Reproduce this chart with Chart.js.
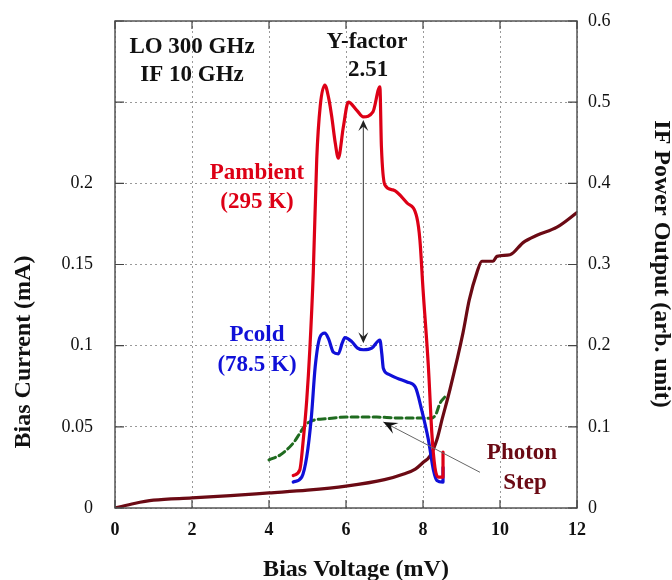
<!DOCTYPE html>
<html>
<head>
<meta charset="utf-8">
<script src="https://cdn.jsdelivr.net/npm/chart.js@4.4.1/dist/chart.umd.min.js"></script>
<style>
  html, body { margin: 0; padding: 0; background: #fff; }
  #wrap { width: 672px; height: 580px; }
</style>
</head>
<body>
<div id="wrap"><canvas id="chart" width="672" height="580"></canvas></div>
<script>
// Unpumped I-V curve (bias voltage mV -> bias current mA, left axis)
const ivVoltage = [0, 0.5, 1, 2, 3, 4, 5, 6, 7, 7.5, 7.8, 8.0, 8.18, 8.36, 8.5, 8.7, 9.04, 9.2, 9.4, 9.53, 9.82, 9.92, 10.26, 10.6, 10.96, 11.48, 12];
const ivCurrent = [0, 0.0028, 0.0048, 0.0062, 0.0076, 0.0093, 0.011, 0.0135, 0.0175, 0.021, 0.024, 0.028, 0.032, 0.042, 0.055, 0.073, 0.108, 0.128, 0.145, 0.152, 0.152, 0.155, 0.156, 0.1635, 0.168, 0.173, 0.182];

// Pumped I-V curve with photon step (left axis)
const pumpedVoltage = [4, 4.29, 4.63, 4.8, 4.94, 5.15, 5.5, 6.02, 6.8, 7.32, 8.0, 8.2, 8.33, 8.44, 8.57];
const pumpedCurrent = [0.0296, 0.0327, 0.040, 0.046, 0.051, 0.054, 0.055, 0.056, 0.056, 0.0555, 0.0555, 0.0553, 0.0575, 0.0645, 0.0685];

// IF power, ambient load (right axis)
const hotVoltage = [4.63, 4.8, 4.89, 4.98, 5.06, 5.15, 5.24, 5.33, 5.45, 5.55, 5.63, 5.72, 5.8, 5.93, 6.06, 6.28, 6.45, 6.7, 6.88, 6.92, 7.01, 7.22, 7.58, 7.84, 7.92, 8.0, 8.14, 8.23, 8.31, 8.4, 8.52, 8.52];
const hotPower = [0.04, 0.047, 0.084, 0.133, 0.195, 0.29, 0.43, 0.495, 0.521, 0.505, 0.482, 0.45, 0.431, 0.469, 0.50, 0.49, 0.482, 0.488, 0.519, 0.445, 0.398, 0.392, 0.376, 0.358, 0.33, 0.27, 0.174, 0.092, 0.05, 0.038, 0.038, 0.069];

// IF power, cold load (right axis)
const coldVoltage = [4.63, 4.85, 4.98, 5.1, 5.2, 5.32, 5.45, 5.55, 5.67, 5.8, 5.9, 5.97, 6.15, 6.3, 6.45, 6.67, 6.88, 6.93, 6.97, 7.1, 7.32, 7.6, 7.8, 7.97, 8.14, 8.27, 8.36, 8.52, 8.52];
const coldPower = [0.032, 0.038, 0.063, 0.112, 0.174, 0.21, 0.2155, 0.208, 0.192, 0.19, 0.203, 0.21, 0.205, 0.197, 0.195, 0.197, 0.207, 0.19, 0.172, 0.165, 0.16, 0.155, 0.149, 0.12, 0.084, 0.047, 0.034, 0.032, 0.05];

// Annotation arrows (data units)
const yFactorArrow = { x: 6.45, top: 0.478, bottom: 0.203 };         // right axis
const photonArrow = { fromX: 9.48, fromY: 0.022, toX: 6.97, toY: 0.053 }; // left axis

const SERIF = '"Liberation Serif", "Times New Roman", serif';

const pts = (xs, ys) => xs.map((x, i) => ({ x: x, y: ys[i] }));

function arrowHead(ctx, x, y, angle, len, half) {
    ctx.save();
    ctx.translate(x, y);
    ctx.rotate(angle);
    ctx.beginPath();
    ctx.moveTo(0, 0);
    ctx.lineTo(-len, -half);
    ctx.lineTo(-len * 0.6, 0);
    ctx.lineTo(-len, half);
    ctx.closePath();
    ctx.fill();
    ctx.restore();
}

const decorPlugin = {
    id: 'decor',
    afterDraw(chart) {
        const ctx = chart.ctx;
        const a = chart.chartArea;
        const sx = chart.scales.x, sy = chart.scales.y, sy1 = chart.scales.y1;

        ctx.save();
        // frame
        ctx.strokeStyle = '#555';
        ctx.lineWidth = 1.5;
        ctx.strokeRect(a.left, a.top, a.right - a.left, a.bottom - a.top);

        // inward tick marks
        ctx.strokeStyle = '#444';
        ctx.lineWidth = 1.2;
        ctx.beginPath();
        sx.ticks.forEach(t => {
            const px = sx.getPixelForValue(t.value);
            ctx.moveTo(px, a.bottom); ctx.lineTo(px, a.bottom - 8);
            ctx.moveTo(px, a.top); ctx.lineTo(px, a.top + 8);
        });
        sy.ticks.forEach(t => {
            const py = sy.getPixelForValue(t.value);
            ctx.moveTo(a.left, py); ctx.lineTo(a.left + 9, py);
        });
        sy1.ticks.forEach(t => {
            const py = sy1.getPixelForValue(t.value);
            ctx.moveTo(a.right, py); ctx.lineTo(a.right - 9, py);
        });
        ctx.stroke();

        // Y-factor double arrow
        const ax = sx.getPixelForValue(yFactorArrow.x);
        const aTop = sy1.getPixelForValue(yFactorArrow.top);
        const aBot = sy1.getPixelForValue(yFactorArrow.bottom);
        ctx.strokeStyle = '#333';
        ctx.fillStyle = '#222';
        ctx.lineWidth = 1;
        ctx.beginPath();
        ctx.moveTo(ax, aTop + 4); ctx.lineTo(ax, aBot - 4);
        ctx.stroke();
        arrowHead(ctx, ax, aTop, -Math.PI / 2, 11, 5);
        arrowHead(ctx, ax, aBot, Math.PI / 2, 11, 5);

        // photon step arrow
        const fx = sx.getPixelForValue(photonArrow.fromX), fy = sy.getPixelForValue(photonArrow.fromY);
        const tx = sx.getPixelForValue(photonArrow.toX), ty = sy.getPixelForValue(photonArrow.toY);
        ctx.strokeStyle = '#666';
        ctx.beginPath();
        ctx.moveTo(fx, fy); ctx.lineTo(tx, ty);
        ctx.stroke();
        ctx.fillStyle = '#111';
        arrowHead(ctx, tx, ty, Math.atan2(ty - fy, tx - fx), 14, 6);

        // text labels
        ctx.textAlign = 'center';
        ctx.textBaseline = 'middle';
        ctx.font = 'bold 23px ' + SERIF;
        ctx.fillStyle = '#111';
        ctx.fillText('LO 300 GHz', 192, 47);
        ctx.fillText('IF 10 GHz', 192, 75);
        ctx.fillText('Y-factor', 367, 42);
        ctx.fillText('2.51', 368, 70);
        ctx.fillStyle = '#dd0016';
        ctx.fillText('Pambient', 257, 173);
        ctx.fillText('(295 K)', 257, 202);
        ctx.fillStyle = '#1010d8';
        ctx.fillText('Pcold', 257, 335);
        ctx.fillText('(78.5 K)', 257, 365);
        ctx.fillStyle = '#6b0a14';
        ctx.fillText('Photon', 522, 453);
        ctx.fillText('Step', 525, 483);

        // axis titles
        ctx.fillStyle = '#111';
        ctx.font = 'bold 24px ' + SERIF;
        ctx.fillText('Bias Voltage (mV)', 356, 570);
        ctx.save();
        ctx.translate(24, 352);
        ctx.rotate(-Math.PI / 2);
        ctx.fillText('Bias Current (mA)', 0, 0);
        ctx.restore();
        ctx.save();
        ctx.translate(661, 264);
        ctx.rotate(Math.PI / 2);
        ctx.fillText('IF Power Output (arb. unit)', 0, 0);
        ctx.restore();

        ctx.restore();
    }
};

// fixed axis box sizes so the plot area lands where the reference has it
const fixBox = (w, h) => s => {
    if (w !== null) s.width = w;
    if (h !== null) s.height = h;
    s.paddingTop = 0;
    s.paddingBottom = 0;
    s.paddingLeft = 0;
    s.paddingRight = 0;
};

new Chart(document.getElementById('chart'), {
    type: 'line',
    data: {
        datasets: [
            {
                label: 'Pambient',
                data: pts(hotVoltage, hotPower),
                yAxisID: 'y1',
                borderColor: '#dd0016',
                borderWidth: 3.2
            },
            {
                label: 'Pcold',
                data: pts(coldVoltage, coldPower),
                yAxisID: 'y1',
                borderColor: '#1010d8',
                borderWidth: 3.2
            },
            {
                label: 'Pumped IV',
                data: pts(pumpedVoltage, pumpedCurrent),
                yAxisID: 'y',
                borderColor: '#1f6b1f',
                borderWidth: 3,
                borderDash: [7, 4]
            },
            {
                label: 'Unpumped IV',
                data: pts(ivVoltage, ivCurrent),
                yAxisID: 'y',
                borderColor: '#6b0a14',
                borderWidth: 3.2
            }
        ]
    },
    options: {
        responsive: false,
        animation: false,
        devicePixelRatio: 1,
        layout: { padding: { top: 21, left: 0, right: 0, bottom: 0 } },
        elements: {
            point: { radius: 0 },
            line: { cubicInterpolationMode: 'monotone', fill: false, borderCapStyle: 'round', borderJoinStyle: 'round' }
        },
        plugins: {
            legend: { display: false },
            tooltip: { enabled: false }
        },
        scales: {
            x: {
                type: 'linear',
                min: 0,
                max: 12,
                afterFit: fixBox(null, 72),
                ticks: {
                    stepSize: 2,
                    padding: 12,
                    color: '#111',
                    font: { family: SERIF, size: 18, weight: 'bold' }
                },
                grid: { color: '#999', lineWidth: 1, drawTicks: false },
                border: { display: false, dash: [2, 3] }
            },
            y: {
                type: 'linear',
                position: 'left',
                min: 0,
                max: 0.3,
                afterFit: fixBox(115, null),
                ticks: {
                    stepSize: 0.05,
                    padding: 22,
                    color: '#111',
                    font: { family: SERIF, size: 18 },
                    callback: v => (v > 0.21 ? '' : String(+v.toFixed(2)))
                },
                grid: { color: '#999', lineWidth: 1, drawTicks: false },
                border: { display: false, dash: [2, 3] }
            },
            y1: {
                type: 'linear',
                position: 'right',
                min: 0,
                max: 0.6,
                afterFit: fixBox(95, null),
                ticks: {
                    stepSize: 0.1,
                    padding: 11,
                    color: '#111',
                    font: { family: SERIF, size: 18 },
                    callback: v => String(+v.toFixed(1))
                },
                grid: { drawOnChartArea: false, drawTicks: false },
                border: { display: false }
            }
        }
    },
    plugins: [decorPlugin]
});
</script>
</body>
</html>
